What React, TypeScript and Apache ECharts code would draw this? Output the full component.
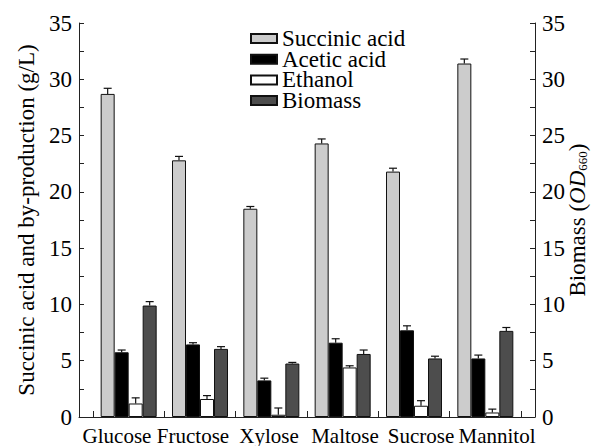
import React, { useEffect, useRef } from "react";
import * as echarts from "echarts";

const categories = ["Glucose", "Fructose", "Xylose", "Maltose", "Sucrose", "Mannitol"];
const seriesNames = ["Succinic acid", "Acetic acid", "Ethanol", "Biomass"];
const succinic = [28.7, 22.8, 18.5, 24.3, 21.8, 31.4];
const succinicErr = [0.5, 0.35, 0.2, 0.4, 0.3, 0.4];
const acetic = [5.75, 6.45, 3.25, 6.6, 7.7, 5.2];
const aceticErr = [0.2, 0.15, 0.2, 0.35, 0.4, 0.3];
const ethanol = [1.2, 1.6, 0.2, 4.4, 1.0, 0.4];
const ethanolErr = [0.5, 0.3, 0.6, 0.15, 0.45, 0.3];
const biomass = [9.9, 6.05, 4.75, 5.6, 5.2, 7.65];
const biomassErr = [0.35, 0.2, 0.1, 0.35, 0.2, 0.3];
const yTicks = [0, 5, 10, 15, 20, 25, 30, 35];

const FONT = "'Liberation Serif', 'Times New Roman', serif";
const colors = ["#cccccc", "#000000", "#ffffff", "#4d4d4d"];
const BAR_W = 14;

export default function App() {
  const ref = useRef<HTMLDivElement>(null);
  useEffect(() => {
    const chart = echarts.init(ref.current!, null, { renderer: "svg" });
    const values = [succinic, acetic, ethanol, biomass];
    const errs = [succinicErr, aceticErr, ethanolErr, biomassErr];
    const errData: number[][] = [];
    values.forEach((arr, s) => arr.forEach((v, i) => errData.push([i, v, errs[s][i], s])));
    const yMin = yTicks[0];
    const yMax = yTicks[yTicks.length - 1];
    const yAxisCommon = {
      type: "value",
      min: yMin,
      max: yMax,
      interval: 5,
      gridIndex: 0,
      splitLine: { show: false },
      axisLine: { show: true, lineStyle: { color: "#222", width: 1 } },
      axisTick: { show: true, inside: true, length: 5, lineStyle: { color: "#222" } },
      minorTick: { show: true, splitNumber: 2, length: 5, lineStyle: { color: "#222" } },
      axisLabel: { color: "#000", fontSize: 23, fontFamily: FONT, margin: 7 },
      nameLocation: "middle",
      nameRotate: 90,
      nameMoveOverlap: false,
    };
    chart.setOption({
      animation: false,
      backgroundColor: "#fff",
      grid: [
        { left: 79, right: 68, top: 23, bottom: 29 },
        { left: 93, right: 82, top: 23, bottom: 29 },
      ],
      legend: {
        orient: "vertical",
        left: 250,
        top: 27,
        padding: 0,
        itemWidth: 26,
        itemHeight: 9,
        itemGap: -2.3,
        icon: "rect",
        data: seriesNames,
        textStyle: { fontSize: 23, fontFamily: FONT, color: "#000", lineHeight: 20 },
      },
      xAxis: [
        {
          type: "category",
          gridIndex: 0,
          data: categories,
          axisLine: { show: true, lineStyle: { color: "#222", width: 1 } },
          axisTick: { show: false },
          axisLabel: { color: "#000", fontSize: 21, fontFamily: FONT, margin: 8, interval: 0 },
        },
        {
          type: "category",
          gridIndex: 1,
          data: categories,
          axisLine: { show: true, lineStyle: { color: "#222", opacity: 0 } },
          axisTick: { show: true, inside: true, length: 6, lineStyle: { color: "#222", opacity: 1 } },
          axisLabel: { show: false },
        },
      ],
      yAxis: [
        {
          ...yAxisCommon,
          position: "left",
          name: "Succinic acid and by-production (g/L)",
          nameGap: 41,
          nameTextStyle: { fontSize: 23, fontFamily: FONT, color: "#000" },
        },
        {
          ...yAxisCommon,
          position: "right",
          name: "{a|Biomass (}{i|OD}{s|660}{a|)}",
          nameGap: 30,
          nameRotate: 90,
          nameTextStyle: {
            fontFamily: FONT,
            color: "#000",
            rich: {
              a: { fontSize: 23, fontFamily: FONT, color: "#000", lineHeight: 24 },
              i: { fontSize: 23, fontFamily: FONT, fontStyle: "italic", color: "#000", lineHeight: 24 },
              s: { fontSize: 13, fontFamily: FONT, color: "#000", lineHeight: 12, verticalAlign: "bottom", padding: [8, 0, 0, 0] },
            },
          },
        },
        { type: "value", gridIndex: 1, min: yMin, max: yMax, show: false, splitLine: { show: false } },
      ],
      series: [
        ...seriesNames.map((name, s) => ({
          name,
          type: "bar",
          xAxisIndex: 1,
          yAxisIndex: 2,
          barWidth: BAR_W,
          barGap: "0%",
          data: values[s],
          itemStyle: { color: colors[s], borderColor: "#111", borderWidth: 1 },
        })),
        {
          type: "custom",
          xAxisIndex: 1,
          yAxisIndex: 2,
          z: 5,
          data: errData,
          renderItem: (params: any, api: any) => {
            const ci = api.value(0);
            const v = api.value(1);
            const e = api.value(2);
            const s = api.value(3);
            const base = api.coord([ci, v]);
            const top = api.coord([ci, v + e]);
            const x = base[0] + (s - 1.5) * BAR_W;
            const style = { stroke: "#111", lineWidth: 1.2 };
            return {
              type: "group",
              children: [
                { type: "line", shape: { x1: x, y1: base[1], x2: x, y2: top[1] }, style },
                { type: "line", shape: { x1: x - 4, y1: top[1], x2: x + 4, y2: top[1] }, style },
              ],
            };
          },
        },
      ],
    });
    return () => chart.dispose();
  }, []);
  return <div ref={ref} style={{ position: "absolute", left: 0, top: 0, width: 603, height: 446 }} />;
}
